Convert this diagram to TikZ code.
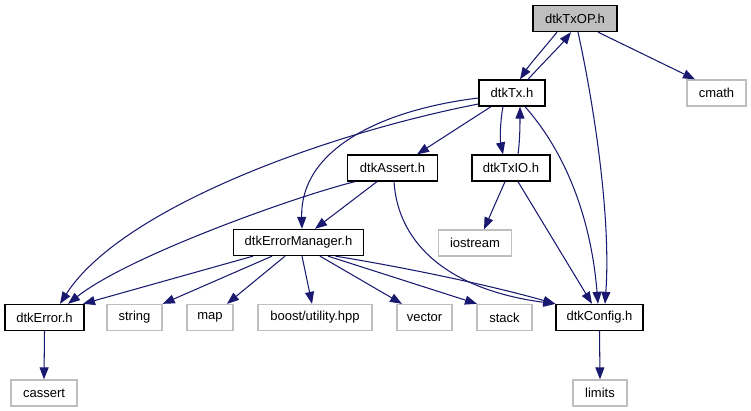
\documentclass[tikz,border=0pt]{standalone}
\usepackage{fontspec}
\setmainfont{Liberation Sans}
\usetikzlibrary{arrows.meta}
\definecolor{edgeblue}{HTML}{191970}
\definecolor{lgray}{HTML}{BFBFBF}
\begin{document}
\begin{tikzpicture}[x=1pt,y=-1pt,
  box/.style={draw=black,line width=1.3pt,fill=white,rectangle,minimum height=26pt,inner sep=0pt,font=\fontsize{13}{15}\selectfont},
  ext/.style={box,draw=lgray},
  edge/.style={draw=edgeblue,line width=1.05pt,-{Triangle[length=12pt,width=9pt]}}]
\useasboundingbox[fill=white] (0,0) rectangle (751,411);
% nodes
\node[box,fill=lgray,minimum width=84pt] (txop) at (575,18.5) {dtkTxOP.h};
\node[ext,minimum width=59pt] (cmath) at (716.5,93) {cmath};
\node[box,minimum width=66pt] (tx) at (512,93) {dtkTx.h};
\node[box,minimum width=90pt] (assert) at (392.5,168) {dtkAssert.h};
\node[box,minimum width=78pt] (txio) at (511,168) {dtkTxIO.h};
\node[ext,minimum width=73pt] (iostream) at (475,243) {iostream};
\node[box,minimum width=130pt] (errmgr) at (298.5,242.5) {dtkErrorManager.h};
\node[box,minimum width=79pt] (error) at (44.5,317.5) {dtkError.h};
\node[ext,minimum width=55pt] (string) at (134.5,317.5) {string};
\node[ext,minimum width=46pt] (map) at (210,317.5) {map};
\node[ext,minimum width=114pt] (boost) at (315,317.5) {boost/utility.hpp};
\node[ext,minimum width=55pt] (vector) at (424.5,317.5) {vector};
\node[ext,minimum width=55pt] (stack) at (504.5,317.5) {stack};
\node[box,minimum width=87pt] (config) at (599.5,317.5) {dtkConfig.h};
\node[ext,minimum width=66pt] (cassert) at (44,393) {cassert};
\node[ext,minimum width=54pt] (limits) at (600,393) {limits};
% edges
\draw[edge] ([xshift=-18pt]txop.south) .. controls (545,47) and (530,64) .. ([xshift=8pt]tx.north);
\draw[edge] ([xshift=16pt]tx.north) .. controls (542,64) and (560,46) .. ([xshift=-4pt]txop.south);
\draw[edge] ([xshift=23pt]txop.south) -- ([xshift=-21.5pt]cmath.north);
\draw[edge] ([xshift=3pt]txop.south) .. controls (595,110) and (611,220) .. ([xshift=5.5pt]config.north);
\draw[edge] ([xshift=13pt]tx.south) .. controls (572,160) and (592,230) .. ([xshift=-1.5pt]config.north);
\draw[edge] ([xshift=-9pt]tx.south) .. controls (500,122) and (500,140) .. ([xshift=-8pt]txio.north);
\draw[edge] ([xshift=7pt]txio.north) .. controls (520,140) and (520,122) .. ([xshift=8pt]tx.south);
\draw[edge] ([xshift=-21pt]tx.south) -- ([xshift=24.5pt]assert.north);
\draw[edge] ([yshift=-5pt]tx.west) .. controls (380,110) and (300,150) .. ([xshift=3.5pt]errmgr.north);
\draw[edge] ([yshift=-11pt]tx.west) .. controls (320,135) and (120,210) .. ([xshift=15.5pt]error.north);
\draw[edge] ([xshift=-15.5pt]assert.south) -- ([xshift=16.5pt]errmgr.north);
\draw[edge] ([xshift=-37.5pt]assert.south) .. controls (300,195) and (130,255) .. ([xshift=23.5pt]error.north);
\draw[edge] ([xshift=1.5pt]assert.south) .. controls (398,245) and (450,290) .. (config.north west);
\draw[edge] ([xshift=-6pt]txio.south) -- ([xshift=9pt]iostream.north);
\draw[edge] ([xshift=7pt]txio.south) -- ([xshift=-7.5pt]config.north);
\draw[edge] ([xshift=-45.5pt]errmgr.south) -- ([xshift=38.5pt]error.north);
\draw[edge] ([xshift=-26.5pt]errmgr.south) -- (string.north east);
\draw[edge] ([xshift=-13.5pt]errmgr.south) -- ([xshift=17pt]map.north);
\draw[edge] ([xshift=3.5pt]errmgr.south) -- ([xshift=-3pt]boost.north);
\draw[edge] ([xshift=21.5pt]errmgr.south) -- ([xshift=-22.5pt]vector.north);
\draw[edge] ([xshift=29.5pt]errmgr.south) -- ([xshift=-27.5pt]stack.north);
\draw[edge] ([xshift=37pt]errmgr.south) .. controls (420,270) and (500,288) .. (config.north west);
\draw[edge] (error.south) -- (cassert.north);
\draw[edge] (config.south) -- (limits.north);
\end{tikzpicture}
\end{document}
